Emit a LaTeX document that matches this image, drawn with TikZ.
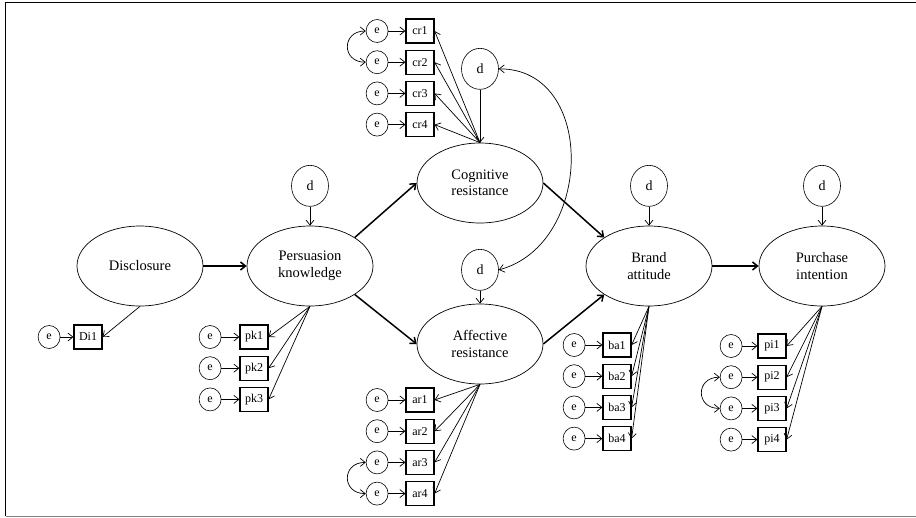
\documentclass[tikz,border=0pt]{standalone}
\usepackage{fontspec}
\setmainfont{Liberation Serif}
\usetikzlibrary{arrows.meta,positioning,shapes.geometric}

\tikzset{
  latent/.style={draw, ellipse, line width=0.7pt, minimum width=126pt,
    minimum height=80pt, inner sep=0pt, align=center,
    font=\fontsize{14.5}{16.5}\selectfont},
  dist/.style={draw, ellipse, line width=0.6pt, minimum width=37pt,
    minimum height=41pt, inner sep=0pt, font=\fontsize{14}{16}\selectfont},
  err/.style={draw, ellipse, line width=0.6pt, minimum width=22pt,
    minimum height=23pt, inner sep=0pt, font=\fontsize{12}{14}\selectfont},
  ind/.style={draw, rectangle, line width=1.2pt, minimum width=28pt,
    minimum height=24pt, inner sep=1pt, font=\fontsize{12}{14}\selectfont},
  regr/.style={->, line width=1.5pt},
  load/.style={->, line width=0.7pt},
  cov/.style={<->, line width=0.7pt},
}

\begin{document}
\begin{tikzpicture}[x=1pt,y=-1pt,>={Straight Barb[length=5pt,width=8pt]},node distance=6pt]

  \useasboundingbox (0,0) rectangle (916,517);
  % frame
  \draw[line width=1.2pt] (916,2.5) -- (5.5,2.5) -- (5.5,516);
  \draw[gray,line width=1pt] (5.5,516) -- (916,516);

  % latent variables
  \node[latent] (dis) at (140,266) {Disclosure};
  \node[latent] (pk) at (310,266) {Persuasion\\knowledge};
  \node[latent] (cr) at (480,183) {Cognitive\\resistance};
  \node[latent] (ar) at (480,344) {Affective\\resistance};
  \node[latent] (ba) at (649,266) {Brand\\attitude};
  \node[latent] (pint) at (822,266) {Purchase\\intention};

  % disturbances
  \node[dist] (dpk) [above=19pt of pk] {d};
  \node[dist] (dcr) [above=53pt of cr] {d};
  \node[dist] (dar) [above=13pt of ar] {d};
  \node[dist] (dba) [above=19pt of ba] {d};
  \node[dist] (dpi) [above=19pt of pint] {d};

  % indicators
  \node[ind] (di1) at (88,337) {Di1};

  \node[ind] (pk1) at (254,337) {pk1};
  \node[ind] (pk2) [below=of pk1] {pk2};
  \node[ind] (pk3) [below=of pk2] {pk3};

  \node[ind] (cr1) at (420,31) {cr1};
  \node[ind] (cr2) [below=of cr1] {cr2};
  \node[ind] (cr3) [below=of cr2] {cr3};
  \node[ind] (cr4) [below=of cr3] {cr4};

  \node[ind] (ar1) at (420,400) {ar1};
  \node[ind] (ar2) [below=of ar1] {ar2};
  \node[ind] (ar3) [below=of ar2] {ar3};
  \node[ind] (ar4) [below=of ar3] {ar4};

  \node[ind] (ba1) at (617,345) {ba1};
  \node[ind] (ba2) [below=of ba1] {ba2};
  \node[ind] (ba3) [below=of ba2] {ba3};
  \node[ind] (ba4) [below=of ba3] {ba4};

  \node[ind] (pi1) at (772,346) {pi1};
  \node[ind] (pi2) [below=of pi1] {pi2};
  \node[ind] (pi3) [below=of pi2] {pi3};
  \node[ind] (pi4) [below=of pi3] {pi4};

  % errors
  \node[err] (edi1) [left=13pt of di1] {e};
  \node[err] (epk1) [left=18pt of pk1] {e};
  \node[err] (epk2) [left=18pt of pk2] {e};
  \node[err] (epk3) [left=18pt of pk3] {e};
  \node[err] (ecr1) [left=17pt of cr1] {e};
  \node[err] (ecr2) [left=17pt of cr2] {e};
  \node[err] (ecr3) [left=17pt of cr3] {e};
  \node[err] (ecr4) [left=17pt of cr4] {e};
  \node[err] (ear1) [left=17pt of ar1] {e};
  \node[err] (ear2) [left=17pt of ar2] {e};
  \node[err] (ear3) [left=17pt of ar3] {e};
  \node[err] (ear4) [left=17pt of ar4] {e};
  \node[err] (eba1) [left=17pt of ba1] {e};
  \node[err] (eba2) [left=17pt of ba2] {e};
  \node[err] (eba3) [left=17pt of ba3] {e};
  \node[err] (eba4) [left=17pt of ba4] {e};
  \node[err] (epi1) [left=15pt of pi1] {e};
  \node[err] (epi2) [left=15pt of pi2] {e};
  \node[err] (epi3) [left=15pt of pi3] {e};
  \node[err] (epi4) [left=15pt of pi4] {e};

  % structural paths
  \draw[regr] (dis) -- (pk);
  \draw[regr] (pk.north east) -- (cr.west);
  \draw[regr] (pk.south east) -- (ar.west);
  \draw[regr] (cr.east) -- (ba.north west);
  \draw[regr] (ar.east) -- (ba.south west);
  \draw[regr] (ba) -- (pint);

  % disturbance paths
  \draw[load] (dpk) -- (pk);
  \draw[load] (dcr) -- (cr);
  \draw[load] (dar) -- (ar);
  \draw[load] (dba) -- (ba);
  \draw[load] (dpi) -- (pint);
  \draw[cov] (dcr.east) to[out=0,in=15,looseness=1.25] (dar.east);

  % loadings
  \draw[load] (dis.south) -- (di1.east);
  \draw[load] (pk.south) -- (pk1.east);
  \draw[load] (pk.south) -- (pk2.east);
  \draw[load] (pk.south) -- (pk3.east);
  \draw[load] (cr.north) -- (cr1.east);
  \draw[load] (cr.north) -- (cr2.east);
  \draw[load] (cr.north) -- (cr3.east);
  \draw[load] (cr.north) -- (cr4.east);
  \draw[load] (ar.south) -- (ar1.east);
  \draw[load] (ar.south) -- (ar2.east);
  \draw[load] (ar.south) -- (ar3.east);
  \draw[load] (ar.south) -- (ar4.east);
  \draw[load] (ba.south) -- (ba1.east);
  \draw[load] (ba.south) -- (ba2.east);
  \draw[load] (ba.south) -- (ba3.east);
  \draw[load] (ba.south) -- (ba4.east);
  \draw[load] (pint.south) -- (pi1.east);
  \draw[load] (pint.south) -- (pi2.east);
  \draw[load] (pint.south) -- (pi3.east);
  \draw[load] (pint.south) -- (pi4.east);

  % error paths
  \draw[load] (edi1) -- (di1);
  \draw[load] (epk1) -- (pk1);
  \draw[load] (epk2) -- (pk2);
  \draw[load] (epk3) -- (pk3);
  \draw[load] (ecr1) -- (cr1);
  \draw[load] (ecr2) -- (cr2);
  \draw[load] (ecr3) -- (cr3);
  \draw[load] (ecr4) -- (cr4);
  \draw[load] (ear1) -- (ar1);
  \draw[load] (ear2) -- (ar2);
  \draw[load] (ear3) -- (ar3);
  \draw[load] (ear4) -- (ar4);
  \draw[load] (eba1) -- (ba1);
  \draw[load] (eba2) -- (ba2);
  \draw[load] (eba3) -- (ba3);
  \draw[load] (eba4) -- (ba4);
  \draw[load] (epi1) -- (pi1);
  \draw[load] (epi2) -- (pi2);
  \draw[load] (epi3) -- (pi3);
  \draw[load] (epi4) -- (pi4);

  % error covariances
  \draw[cov] (ecr1.west) to[out=180,in=180,looseness=2] (ecr2.west);
  \draw[cov] (ear3.west) to[out=180,in=180,looseness=2] (ear4.west);
  \draw[cov] (epi2.west) to[out=180,in=180,looseness=2] (epi3.west);

\end{tikzpicture}
\end{document}
